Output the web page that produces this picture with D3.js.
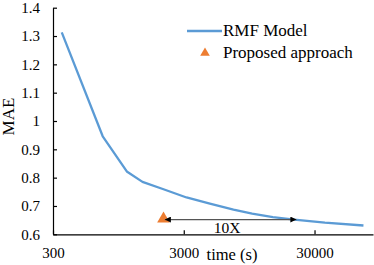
<!DOCTYPE html>
<html lang="en">
<head>
<meta charset="utf-8">
<title>MAE vs time</title>
<script src="https://cdn.jsdelivr.net/npm/d3@7"></script>
<style type="text/css">
  body { margin: 0; background: #fff; }
  text { font-family: "Liberation Serif", "Times New Roman", serif; fill: #000; }
</style>
</head>
<body>
<div id="chart"></div>
<script>

// data
var rmfTime = [350, 720, 1100, 1450, 2100, 3150, 4750, 7200, 10000, 14400, 21000, 36000, 71000];
var rmfMae  = [1.313, 0.946, 0.822, 0.785, 0.759, 0.730, 0.708, 0.687, 0.673, 0.661, 0.652, 0.641, 0.631];
var proposedTime = [2100];
var proposedMae  = [0.653];
var speedupFrom = [2150, 0.652];
var speedupTo   = [21800, 0.652];
var speedupLabel = "10X";
var xTicks = [300, 3000, 30000];
var yTicks = [0.6, 0.7, 0.8, 0.9, 1, 1.1, 1.2, 1.3, 1.4];
var xDomain = [300, 84000];
var yDomain = [0.6, 1.4];
var seriesNames = ["RMF Model", "Proposed approach"];

var width = 374, height = 265;
var blue = "#5b9bd5", orange = "#ed7d31";

var svg = d3.select("#chart").append("svg")
    .attr("width", width)
    .attr("height", height);

var x = d3.scaleLog().domain(xDomain).range([53, 373]);
var y = d3.scaleLinear().domain(yDomain).range([234.3, 7.7]);

// axes, ticks pointing inward
var yAxis = d3.axisLeft(y)
    .tickValues(yTicks)
    .tickSizeInner(-4)
    .tickSizeOuter(0)
    .tickPadding(13)
    .tickFormat(function(d) { return String(d); });

var xAxis = d3.axisBottom(x)
    .tickValues(xTicks)
    .tickSizeInner(-4)
    .tickSizeOuter(0)
    .tickPadding(13)
    .tickFormat(function(d) { return String(d); });

var gy = svg.append("g")
    .attr("transform", "translate(" + x.range()[0] + ",0)")
    .call(yAxis);
var gx = svg.append("g")
    .attr("transform", "translate(0," + y.range()[0] + ")")
    .call(xAxis);

[gx, gy].forEach(function(g) {
  g.select(".domain").attr("stroke", "#000").attr("stroke-width", 1.2);
  g.selectAll(".tick line").attr("stroke", "#000").attr("stroke-width", 1.2);
  g.selectAll(".tick text")
    .attr("font-family", "Liberation Serif, Times New Roman, serif")
    .attr("font-size", 15)
    .attr("fill", "#000");
});

// axis titles
svg.append("text")
    .attr("x", 232)
    .attr("y", 260)
    .attr("text-anchor", "middle")
    .attr("font-size", 16.5)
    .text("time (s)");

svg.append("text")
    .attr("transform", "translate(14,116.5) rotate(-90)")
    .attr("text-anchor", "middle")
    .attr("font-size", 17)
    .text("MAE");

// RMF line
var line = d3.line()
    .x(function(d, i) { return x(rmfTime[i]); })
    .y(function(d) { return y(d); });

svg.append("path")
    .attr("d", line(rmfMae))
    .attr("fill", "none")
    .attr("stroke", blue)
    .attr("stroke-width", 2.3)
    .attr("stroke-linejoin", "round");

// double arrow showing the speedup
var defs = svg.append("defs");
defs.append("marker")
    .attr("id", "head")
    .attr("viewBox", "0 0 10 10")
    .attr("refX", 10)
    .attr("refY", 5)
    .attr("markerWidth", 10)
    .attr("markerHeight", 6)
    .attr("markerUnits", "userSpaceOnUse")
    .attr("orient", "auto-start-reverse")
  .append("path")
    .attr("d", "M0,0L10,5L0,10Z")
    .attr("fill", "#000");

// proposed approach marker
var tri = d3.symbol().type(d3.symbolTriangle).size(70);
svg.selectAll(".proposed")
    .data(proposedMae)
  .enter().append("path")
    .attr("class", "proposed")
    .attr("d", tri)
    .attr("transform", function(d, i) { return "translate(" + x(proposedTime[i]) + "," + (y(d) - 0.5) + ")"; })
    .attr("fill", orange);

svg.append("line")
    .attr("x1", x(speedupFrom[0]))
    .attr("y1", y(speedupFrom[1]))
    .attr("x2", x(speedupTo[0]))
    .attr("y2", y(speedupTo[1]))
    .attr("stroke", "#555")
    .attr("stroke-width", 1.2)
    .attr("marker-start", "url(#head)")
    .attr("marker-end", "url(#head)");

svg.append("text")
    .attr("x", 227)
    .attr("y", 233.3)
    .attr("text-anchor", "middle")
    .attr("font-size", 15.5)
    .text(speedupLabel);

// legend
var legend = svg.append("g").attr("transform", "translate(187,0)");
legend.append("line")
    .attr("x1", 0).attr("x2", 35)
    .attr("y1", 31).attr("y2", 31)
    .attr("stroke", blue)
    .attr("stroke-width", 2.3);
legend.append("path")
    .attr("d", d3.symbol().type(d3.symbolTriangle).size(40))
    .attr("transform", "translate(18,53)")
    .attr("fill", orange);
legend.selectAll(".label")
    .data(seriesNames)
  .enter().append("text")
    .attr("class", "label")
    .attr("x", 36)
    .attr("y", function(d, i) { return 36 + i * 22; })
    .attr("font-size", 17)
    .text(function(d) { return d; });

</script>
</body>
</html>
